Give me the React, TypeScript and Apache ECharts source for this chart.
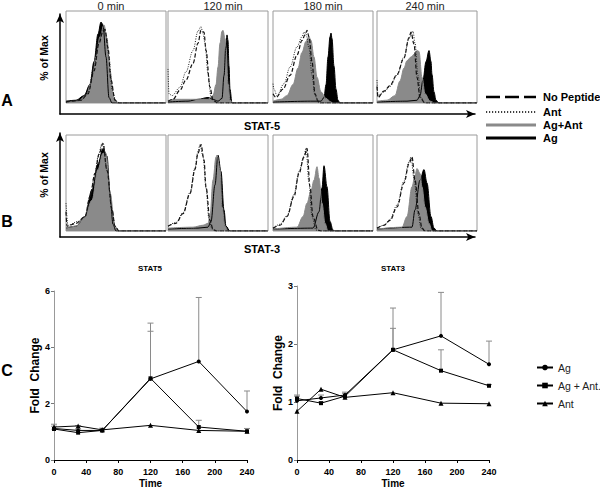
import React, { useEffect, useRef } from "react";
import * as echarts from "echarts";

type P = [number, number][];

const HIST_TITLES = ["0 min", "120 min", "180 min", "240 min"];
const HIST_LEGEND = ["No Peptide", "Ant", "Ag+Ant", "Ag"];

// STAT-5 histograms (panel A): [fluorescence bin, % of Max]
const A_AG: P[] = [
  [[0,2],[10,3],[18,8],[24,20],[28,45],[32,75],[35,88],[37,85],[40,50],[43,6],[46,0],[100,0]],
  [[0,1],[20,2],[30,4],[40,6],[45,4],[50,2],[54,5],[56,30],[58,65],[59,74],[60,68],[61,40],[62,15],[64,0],[100,0]],
  [[0,1],[40,2],[48,2],[51,6],[53,20],[55,50],[57,72],[58,76],[59,70],[61,40],[63,15],[65,3],[67,0],[100,0]],
  [[0,1],[30,2],[40,3],[43,8],[46,25],[49,45],[52,57],[54,45],[55,31],[57,12],[59,3],[62,0],[100,0]],
];
const A_AGANT: P[] = [
  [[0,1],[12,2],[20,8],[26,25],[30,50],[34,72],[38,85],[41,70],[44,35],[48,5],[52,0],[100,0]],
  [[0,2],[5,4],[40,4],[45,8],[48,20],[50,39],[52,65],[54,78],[55,79],[57,70],[58,60],[60,21],[62,3],[65,0],[100,0]],
  [[0,2],[8,4],[14,8],[20,20],[25,38],[29,55],[33,67],[36,72],[38,68],[41,50],[44,28],[48,12],[53,5],[58,1],[60,0],[100,0]],
  [[0,2],[10,3],[18,8],[23,24],[27,38],[30,46],[34,50],[37,53],[40,57],[42,56],[45,28],[48,10],[53,2],[58,0],[100,0]],
];
const A_NOPEP: P[] = [
  [[0,1],[15,3],[22,10],[28,35],[33,65],[37,78],[39,80],[42,60],[45,25],[49,3],[53,0],[100,0]],
  [[0,2],[5,4],[12,14],[18,25],[25,43],[30,65],[33,79],[36,77],[38,57],[42,17],[45,3],[50,0],[100,0]],
  [[0,10],[3,6],[10,15],[17,30],[24,52],[29,68],[32,74],[34,79],[36,72],[39,45],[42,10],[45,2],[48,0],[100,0]],
  [[0,18],[1,6],[7,13],[13,19],[20,31],[27,49],[32,71],[34,77],[37,64],[40,28],[43,6],[48,0],[100,0]],
];
const A_ANT: P[] = [
  [[0,1],[15,3],[22,12],[28,40],[33,68],[37,80],[40,75],[43,50],[46,15],[50,2],[54,0],[100,0]],
  [[0,37],[1,10],[4,8],[12,17],[18,34],[25,57],[30,78],[33,83],[35,75],[37,65],[40,32],[43,7],[48,0],[100,0]],
  [[0,21],[1,15],[4,8],[11,21],[17,39],[24,61],[29,72],[31,77],[33,75],[36,60],[39,30],[42,8],[46,0],[100,0]],
  [[0,25],[1,8],[7,12],[13,18],[20,30],[27,50],[32,70],[35,76],[36,78],[38,65],[41,30],[44,6],[48,0],[100,0]],
];

// STAT-3 histograms (panel B)
const B_AG: P[] = [
  [[0,3],[10,5],[19,15],[26,43],[32,70],[37,86],[41,78],[44,40],[47,7],[50,0],[100,0]],
  [[0,2],[30,3],[40,4],[43,10],[47,48],[50,79],[53,62],[56,22],[58,5],[62,0],[100,0]],
  [[0,2],[40,3],[46,20],[49,45],[51,68],[54,46],[57,10],[60,1],[62,0],[100,0]],
  [[0,2],[35,4],[38,22],[43,53],[47,64],[50,50],[54,15],[57,3],[60,0],[100,0]],
];
const B_AGANT: P[] = [
  [[0,3],[10,5],[19,15],[26,32],[32,64],[37,81],[40,81],[44,40],[49,5],[52,0],[100,0]],
  [[0,3],[25,4],[35,6],[40,8],[42,15],[45,53],[48,77],[49,79],[52,64],[54,25],[57,5],[60,0],[100,0]],
  [[0,2],[24,4],[30,15],[34,29],[38,42],[41,53],[44,67],[46,55],[49,29],[52,8],[55,0],[100,0]],
  [[0,2],[25,4],[30,15],[35,46],[38,58],[40,65],[43,60],[45,46],[48,25],[52,8],[55,0],[100,0]],
];
const B_NOPEP: P[] = [
  [[0,20],[1,5],[10,8],[19,15],[24,36],[29,60],[33,80],[37,91],[41,63],[46,22],[49,5],[53,0],[100,0]],
  [[0,5],[8,8],[15,18],[22,39],[27,64],[30,81],[33,90],[36,74],[38,46],[42,11],[45,2],[48,0],[100,0]],
  [[0,3],[7,6],[14,15],[21,36],[26,60],[31,77],[34,86],[37,46],[40,15],[45,1],[48,0],[100,0]],
  [[0,3],[7,6],[13,11],[20,25],[27,50],[32,70],[35,77],[38,53],[42,18],[45,3],[48,0],[100,0]],
];
const B_ANT: P[] = [
  [[0,29],[2,6],[12,10],[19,15],[24,36],[29,60],[32,77],[36,91],[37,92],[41,63],[46,22],[49,5],[53,0],[100,0]],
  [[0,5],[8,9],[15,19],[22,40],[27,66],[30,83],[32,90],[35,78],[38,45],[41,12],[44,2],[47,0],[100,0]],
  [[0,3],[7,7],[14,16],[21,38],[26,62],[31,78],[33,86],[36,50],[39,15],[43,1],[47,0],[100,0]],
  [[0,3],[7,6],[13,12],[20,27],[27,52],[32,72],[34,77],[37,55],[41,18],[44,3],[47,0],[100,0]],
];

// Panel C: fold change over time
const TIME = [0, 30, 60, 120, 180, 240];
const X_TICKS = [0, 40, 80, 120, 160, 200, 240];
const LINE_NAMES = ["Ag", "Ag + Ant.", "Ant"];

const STAT5_AG = [1.12, 1.05, 1.05, 2.88, 3.5, 1.72];
const STAT5_AGANT = [1.1, 0.97, 1.05, 2.9, 1.17, 1.02];
const STAT5_ANT = [1.17, 1.21, 1.07, 1.23, 1.05, 1.02];
const STAT5_AG_HI = [1.27, 1.22, 1.13, 4.86, 5.77, 2.45];
const STAT5_AGANT_HI = [1.2, 1.1, 1.1, 4.57, 1.41, 1.12];

const STAT3_AG = [1.02, 1.07, 1.12, 1.9, 2.14, 1.65];
const STAT3_AGANT = [1.06, 0.98, 1.1, 1.9, 1.54, 1.28];
const STAT3_ANT = [0.84, 1.22, 1.08, 1.16, 0.98, 0.97];
const STAT3_AG_HI = [1.12, 1.12, 1.17, 2.62, 2.89, 2.05];
const STAT3_AGANT_HI = [1.1, 1.0, 1.15, 2.27, 1.9, 1.3];

const FONT = "'Liberation Sans', Arial, Helvetica, sans-serif";

export default function App() {
  const ref = useRef<HTMLDivElement>(null);
  useEffect(() => {
    if (!ref.current) return;
    const chart = echarts.init(ref.current, undefined, { renderer: "svg" });

    const boxLefts = [66, 168, 273, 377];
    const grids: any[] = [];
    const xAxes: any[] = [];
    const yAxes: any[] = [];
    const series: any[] = [];

    const histSets = [
      { top: 11, height: 92, sets: [A_AG, A_AGANT, A_NOPEP, A_ANT] },
      { top: 135, height: 96, sets: [B_AG, B_AGANT, B_NOPEP, B_ANT] },
    ];
    const styles = [
      { line: { color: "#000", width: 1 }, area: { color: "#000", opacity: 1 } },
      { line: { color: "#8a8a8a", width: 1 }, area: { color: "#8a8a8a", opacity: 1 } },
      { line: { color: "#111", width: 1.2, type: [4, 2] }, area: null },
      { line: { color: "#222", width: 1, type: [1, 1.4] }, area: null },
    ];
    const kinds = ["Ag", "AgAnt", "NoPep", "Ant"];

    histSets.forEach((hs, r) => {
      boxLefts.forEach((left, c) => {
        const gi = grids.length;
        grids.push({
          left, top: hs.top, width: 100, height: hs.height,
          show: true, borderColor: "#9a9a9a", borderWidth: 1, backgroundColor: "#fff",
        });
        xAxes.push({ gridIndex: gi, type: "value", min: 0, max: 100, show: false });
        yAxes.push({ gridIndex: gi, type: "value", min: 0, max: 100, show: false });
        hs.sets.forEach((set, k) => {
          const st = styles[k];
          series.push({
            name: `hist-${r}-${c}-${kinds[k]}`,
            type: "line",
            xAxisIndex: gi,
            yAxisIndex: gi,
            data: set[c],
            smooth: 0.35,
            smoothMonotone: "x",
            showSymbol: false,
            symbol: "none",
            silent: true,
            lineStyle: st.line,
            areaStyle: st.area || undefined,
          });
        });
      });
    });

    // Arrow axes for panels A and B
    const arrowGrids = [
      { top: 14, height: 100 },
      { top: 133, height: 104 },
    ];
    arrowGrids.forEach((ag) => {
      const gi = grids.length;
      grids.push({ left: 60, top: ag.top, width: 415, height: ag.height, show: false });
      const axisLine = {
        show: true,
        symbol: ["none", "arrow"],
        symbolSize: [6, 9],
        lineStyle: { color: "#000", width: 1.5 },
      };
      xAxes.push({
        gridIndex: gi, type: "value", min: 0, max: 1, axisLine,
        axisTick: { show: false }, axisLabel: { show: false }, splitLine: { show: false },
      });
      yAxes.push({
        gridIndex: gi, type: "value", min: 0, max: 1, axisLine,
        axisTick: { show: false }, axisLabel: { show: false }, splitLine: { show: false },
      });
    });

    // Panel C grids
    const cGrids = [
      { left: 54, top: 291, width: 193, height: 171, max: 6, interval: 2, gap: 12,
        vals: [STAT5_AG, STAT5_AGANT, STAT5_ANT], his: [STAT5_AG_HI, STAT5_AGANT_HI] },
      { left: 297, top: 286, width: 192, height: 177, max: 3, interval: 1, gap: 11,
        vals: [STAT3_AG, STAT3_AGANT, STAT3_ANT], his: [STAT3_AG_HI, STAT3_AGANT_HI] },
    ];
    const symbols = ["circle", "rect", "triangle"];
    cGrids.forEach((cg) => {
      const gi = grids.length;
      grids.push({ left: cg.left, top: cg.top, width: cg.width, height: cg.height, show: false });
      xAxes.push({
        gridIndex: gi, type: "value", min: X_TICKS[0], max: X_TICKS[X_TICKS.length - 1], interval: 40,
        axisLine: { show: true, lineStyle: { color: "#000", width: 1 } },
        axisTick: { show: true, length: 3, lineStyle: { color: "#000" } },
        axisLabel: { fontSize: 9, fontWeight: "bold", color: "#000", margin: 7, fontFamily: FONT },
        splitLine: { show: false },
        name: "Time", nameLocation: "middle", nameGap: 18,
        nameTextStyle: { fontSize: 10, fontWeight: "bold", color: "#000", fontFamily: FONT, verticalAlign: "top" },
      });
      yAxes.push({
        gridIndex: gi, type: "value", min: 0, max: cg.max, interval: cg.interval,
        axisLine: { show: true, lineStyle: { color: "#999", width: 1 } },
        axisTick: { show: true, length: 3, lineStyle: { color: "#777" } },
        axisLabel: { fontSize: 9, fontWeight: "bold", color: "#000", margin: 4, fontFamily: FONT },
        splitLine: { show: false },
        name: "Fold  Change", nameLocation: "middle", nameGap: cg.gap, nameRotate: 90,
        nameTextStyle: { fontSize: 12, fontWeight: "bold", color: "#000", fontFamily: FONT },
      });
      cg.his.forEach((hi, k) => {
        series.push({
          name: `err-${gi}-${k}`,
          type: "custom",
          xAxisIndex: gi,
          yAxisIndex: gi,
          silent: true,
          z: 1,
          data: TIME.map((t, i) => [t, cg.vals[k][i], hi[i]]),
          renderItem: (_p: any, api: any) => {
            const p0 = api.coord([api.value(0), api.value(1)]);
            const p1 = api.coord([api.value(0), api.value(2)]);
            const st = { stroke: "#8a8a8a", lineWidth: 1 };
            return {
              type: "group",
              children: [
                { type: "line", shape: { x1: p0[0], y1: p0[1], x2: p1[0], y2: p1[1] }, style: st },
                { type: "line", shape: { x1: p1[0] - 3, y1: p1[1], x2: p1[0] + 3, y2: p1[1] }, style: st },
              ],
            };
          },
        });
      });
      cg.vals.forEach((vals, k) => {
        series.push({
          name: LINE_NAMES[k],
          type: "line",
          xAxisIndex: gi,
          yAxisIndex: gi,
          z: 3,
          data: TIME.map((t, i) => [t, vals[i]]),
          symbol: symbols[k],
          symbolSize: k === 2 ? 5 : 4,
          showSymbol: true,
          itemStyle: { color: "#000" },
          lineStyle: { color: "#000", width: 1 },
        });
      });
    });

    const titleCenters = [111, 223, 323, 425];
    const graphic: any[] = [];
    HIST_TITLES.forEach((t, i) => {
      graphic.push({
        type: "text", x: titleCenters[i], y: 6,
        style: { text: t, fontSize: 11, fontFamily: FONT, fill: "#222", align: "center", verticalAlign: "middle" },
      });
    });
    const txt = (text: string, x: number, y: number, size: number, extra: any = {}) => ({
      type: "text", x, y, rotation: extra.rotation || 0,
      style: {
        text, fontSize: size, fontFamily: FONT, fontWeight: extra.weight || "bold",
        fill: "#000", align: extra.align || "center", verticalAlign: "middle",
      },
    });
    graphic.push(txt("% of Max", 44, 58, 10.5, { rotation: Math.PI / 2 }));
    graphic.push(txt("% of Max", 44, 175, 10.5, { rotation: Math.PI / 2 }));
    graphic.push(txt("STAT-5", 262, 126, 11));
    graphic.push(txt("STAT-3", 262, 249, 11));
    graphic.push(txt("A", 7, 100, 16));
    graphic.push(txt("B", 7, 221, 16));
    graphic.push(txt("C", 7, 370, 16));
    graphic.push(txt("STAT5", 150, 268, 8));
    graphic.push(txt("STAT3", 393, 268, 8));

    const legY = [97, 112, 125, 138];
    const legStyles = [
      { stroke: "#000", lineWidth: 2.5, lineDash: [14, 5] },
      { stroke: "#000", lineWidth: 1.5, lineDash: [1.2, 1.8] },
      { stroke: "#8a8a8a", lineWidth: 3 },
      { stroke: "#000", lineWidth: 3 },
    ];
    HIST_LEGEND.forEach((name, i) => {
      graphic.push({
        type: "line",
        shape: { x1: 486, y1: legY[i], x2: 536, y2: legY[i] },
        style: legStyles[i],
      });
      graphic.push(txt(name, 543, legY[i], 11, { align: "left" }));
    });

    chart.setOption({
      animation: false,
      backgroundColor: "#fff",
      textStyle: { fontFamily: FONT },
      grid: grids,
      xAxis: xAxes,
      yAxis: yAxes,
      series,
      graphic,
      legend: {
        data: LINE_NAMES,
        orient: "vertical",
        left: 531,
        top: 357,
        itemWidth: 16,
        itemHeight: 7,
        itemGap: 7,
        textStyle: { fontSize: 10.5, color: "#222", fontFamily: FONT },
        selectedMode: false,
      },
    });
    return () => chart.dispose();
  }, []);

  return (
    <div
      ref={ref}
      style={{ position: "fixed", left: 0, top: 0, width: 600, height: 489, background: "#fff" }}
    />
  );
}
